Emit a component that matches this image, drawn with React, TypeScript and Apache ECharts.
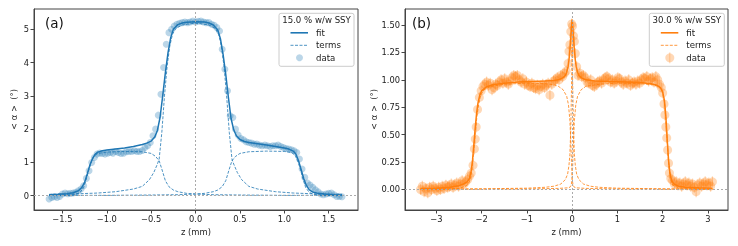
import React, { useEffect, useRef } from 'react';
import * as echarts from 'echarts';

const FONT = 'DejaVu Sans';
const BLUE = '#1f77b4';
const ORANGE = '#ff7f0e';

// ---------- Panel (a): 15.0 % w/w SSY ----------
const X_TICKS_A = [-1.5, -1.0, -0.5, 0, 0.5, 1.0, 1.5];
const Y_TICKS_A = [0, 1, 2, 3, 4, 5];

const DATA_A: number[][] = [
  [-1.65, -0.1], [-1.62, -0.05], [-1.59, -0.03], [-1.56, -0.05], [-1.53, -0.02], [-1.5, 0.05], [-1.47, 0.08],
  [-1.44, 0.06], [-1.41, 0.07], [-1.38, 0.08], [-1.35, 0.1], [-1.32, 0.15], [-1.29, 0.2], [-1.26, 0.3],
  [-1.23, 0.52], [-1.2, 0.75], [-1.17, 1.0], [-1.14, 1.15], [-1.11, 1.25], [-1.08, 1.28], [-1.05, 1.27],
  [-1.02, 1.25], [-0.99, 1.28], [-0.96, 1.3], [-0.93, 1.28], [-0.9, 1.33], [-0.87, 1.3], [-0.84, 1.27],
  [-0.81, 1.28], [-0.78, 1.32], [-0.75, 1.33], [-0.72, 1.33], [-0.69, 1.35], [-0.66, 1.33], [-0.63, 1.33],
  [-0.6, 1.36], [-0.57, 1.45], [-0.54, 1.5], [-0.51, 1.6], [-0.48, 1.8], [-0.45, 2.0], [-0.42, 2.42],
  [-0.39, 3.05], [-0.36, 3.85], [-0.33, 4.55], [-0.3, 4.9], [-0.27, 5.0], [-0.24, 5.1], [-0.21, 5.15],
  [-0.18, 5.18], [-0.15, 5.2], [-0.12, 5.22], [-0.09, 5.2], [-0.06, 5.22], [-0.03, 5.25], [0.0, 5.22],
  [0.03, 5.24], [0.06, 5.25], [0.09, 5.22], [0.12, 5.2], [0.15, 5.2], [0.18, 5.15], [0.21, 5.12],
  [0.24, 5.05], [0.27, 4.95], [0.3, 4.4], [0.33, 3.8], [0.36, 3.15], [0.39, 2.4], [0.42, 2.35],
  [0.45, 2.0], [0.48, 1.82], [0.51, 1.72], [0.54, 1.68], [0.57, 1.62], [0.6, 1.6], [0.63, 1.58],
  [0.66, 1.55], [0.69, 1.55], [0.72, 1.52], [0.75, 1.5], [0.78, 1.52], [0.81, 1.5], [0.84, 1.48],
  [0.87, 1.5], [0.9, 1.5], [0.93, 1.52], [0.96, 1.48], [0.99, 1.45], [1.02, 1.42], [1.05, 1.4],
  [1.08, 1.38], [1.11, 1.35], [1.14, 1.3], [1.17, 1.1], [1.2, 0.8], [1.23, 0.55], [1.26, 0.38],
  [1.29, 0.32], [1.32, 0.25], [1.35, 0.18], [1.38, 0.12], [1.41, 0.05], [1.44, 0.03], [1.47, 0.05],
  [1.5, 0.07], [1.53, 0.08], [1.56, 0.03], [1.59, -0.02], [1.62, -0.02], [1.65, -0.03],
];

const FIT_A: number[][] = [
  [-1.65, 0.03], [-1.55, 0.04], [-1.45, 0.06], [-1.38, 0.09], [-1.32, 0.15], [-1.28, 0.25], [-1.25, 0.4],
  [-1.22, 0.65], [-1.19, 0.92], [-1.16, 1.12], [-1.13, 1.25], [-1.1, 1.31], [-1.05, 1.35], [-1.0, 1.37],
  [-0.9, 1.4], [-0.8, 1.43], [-0.7, 1.48], [-0.6, 1.54], [-0.55, 1.58], [-0.5, 1.64], [-0.46, 1.76],
  [-0.43, 1.96], [-0.4, 2.35], [-0.37, 3.0], [-0.34, 3.7], [-0.31, 4.3], [-0.28, 4.75], [-0.25, 5.0],
  [-0.2, 5.14], [-0.15, 5.19], [-0.1, 5.21], [0, 5.23], [0.1, 5.22], [0.15, 5.19], [0.2, 5.13],
  [0.25, 4.98], [0.28, 4.72], [0.31, 4.25], [0.34, 3.65], [0.37, 2.95], [0.4, 2.32], [0.43, 1.98],
  [0.46, 1.8], [0.5, 1.69], [0.55, 1.63], [0.6, 1.6], [0.7, 1.56], [0.8, 1.52], [0.9, 1.48],
  [1.0, 1.43], [1.05, 1.4], [1.1, 1.34], [1.13, 1.25], [1.16, 1.05], [1.19, 0.78], [1.22, 0.5],
  [1.25, 0.3], [1.28, 0.18], [1.32, 0.11], [1.38, 0.07], [1.45, 0.05], [1.55, 0.03], [1.65, 0.02],
];

const TERM_A_CENTER: number[][] = [
  [-1.65, 0.04], [-1.4, 0.05], [-1.1, 0.08], [-0.9, 0.12], [-0.7, 0.2], [-0.6, 0.28], [-0.52, 0.48],
  [-0.47, 0.7], [-0.43, 0.95], [-0.41, 1.1], [-0.38, 1.9], [-0.35, 3.0], [-0.32, 3.9], [-0.29, 4.5],
  [-0.26, 4.85], [-0.22, 5.03], [-0.15, 5.13], [-0.05, 5.17], [0, 5.18], [0.05, 5.17], [0.15, 5.13],
  [0.22, 5.03], [0.26, 4.85], [0.29, 4.5], [0.32, 3.9], [0.35, 3.0], [0.38, 1.9], [0.41, 1.1],
  [0.43, 0.95], [0.47, 0.7], [0.52, 0.48], [0.6, 0.28], [0.7, 0.2], [0.9, 0.12], [1.1, 0.08],
  [1.4, 0.05], [1.65, 0.04],
];

const TERM_A_LEFT: number[][] = [
  [-1.65, 0.0], [-1.45, 0.01], [-1.35, 0.04], [-1.3, 0.1], [-1.26, 0.25], [-1.23, 0.5], [-1.2, 0.8],
  [-1.17, 1.05], [-1.14, 1.2], [-1.1, 1.27], [-1.0, 1.31], [-0.8, 1.33], [-0.6, 1.32], [-0.5, 1.27],
  [-0.45, 1.18], [-0.41, 1.05], [-0.38, 0.8], [-0.34, 0.45], [-0.3, 0.27], [-0.25, 0.17], [-0.2, 0.12],
  [-0.1, 0.07], [0, 0.05], [0.2, 0.03], [0.5, 0.02], [1.0, 0.01], [1.65, 0.01],
];

const TERM_A_RIGHT: number[][] = [
  [-1.65, 0.01], [-1.0, 0.01], [-0.5, 0.02], [-0.2, 0.03], [0, 0.05], [0.1, 0.07], [0.2, 0.12],
  [0.25, 0.17], [0.3, 0.27], [0.34, 0.45], [0.38, 0.8], [0.41, 1.05], [0.45, 1.18], [0.5, 1.27],
  [0.6, 1.32], [0.8, 1.34], [1.0, 1.33], [1.08, 1.3], [1.12, 1.22], [1.15, 1.05], [1.18, 0.8],
  [1.21, 0.5], [1.24, 0.25], [1.28, 0.1], [1.33, 0.04], [1.45, 0.01], [1.65, 0.0],
];

// ---------- Panel (b): 30.0 % w/w SSY ----------
const X_TICKS_B = [-3, -2, -1, 0, 1, 2, 3];
const Y_TICKS_B = [0, 0.25, 0.5, 0.75, 1.0, 1.25, 1.5];
const ERR_B = 0.05;

const DATA_B: number[][] = [
  [-3.35, 0.0], [-3.31, 0.03], [-3.27, -0.02], [-3.23, 0.01], [-3.19, -0.03], [-3.15, 0.02], [-3.11, 0.0],
  [-3.07, 0.03], [-3.03, 0.01], [-2.99, -0.01], [-2.95, 0.02], [-2.91, 0.0], [-2.87, 0.03], [-2.83, 0.01],
  [-2.79, 0.04], [-2.75, 0.02], [-2.71, 0.03], [-2.67, 0.05], [-2.63, 0.02], [-2.59, 0.04], [-2.55, 0.06],
  [-2.51, 0.03], [-2.47, 0.05], [-2.43, 0.08], [-2.39, 0.05], [-2.35, 0.07], [-2.31, 0.09], [-2.27, 0.12],
  [-2.23, 0.15], [-2.19, 0.22], [-2.16, 0.37], [-2.14, 0.46], [-2.12, 0.57], [-2.09, 0.73], [-2.05, 0.84],
  [-2.01, 0.9], [-1.97, 0.94], [-1.93, 0.96], [-1.89, 0.98], [-1.85, 0.95], [-1.81, 0.97], [-1.77, 0.91],
  [-1.73, 0.93], [-1.69, 0.96], [-1.65, 0.95], [-1.61, 0.98], [-1.57, 1.0], [-1.53, 0.97], [-1.49, 1.01],
  [-1.45, 0.98], [-1.41, 0.96], [-1.37, 0.99], [-1.33, 1.02], [-1.29, 1.04], [-1.25, 1.03], [-1.21, 1.04],
  [-1.17, 1.0], [-1.13, 0.98], [-1.09, 1.01], [-1.05, 0.96], [-1.01, 0.98], [-0.97, 0.95], [-0.93, 0.94],
  [-0.89, 0.97], [-0.85, 0.93], [-0.81, 0.92], [-0.77, 0.95], [-0.73, 0.91], [-0.69, 0.94], [-0.65, 0.96],
  [-0.61, 0.93], [-0.57, 0.95], [-0.53, 0.97], [-0.49, 0.86], [-0.45, 0.96], [-0.41, 0.99], [-0.37, 1.0],
  [-0.33, 1.02], [-0.29, 1.0], [-0.25, 1.04], [-0.21, 1.03], [-0.17, 1.06], [-0.13, 1.08], [-0.09, 1.15],
  [-0.07, 1.26], [-0.05, 1.32], [-0.03, 1.44], [-0.01, 1.51], [0.01, 1.49], [0.03, 1.4], [0.05, 1.35],
  [0.07, 1.24], [0.1, 1.12], [0.13, 1.04], [0.17, 1.06], [0.21, 1.03], [0.25, 1.04], [0.29, 1.02],
  [0.33, 0.98], [0.37, 0.97], [0.41, 1.0], [0.45, 0.95], [0.49, 0.94], [0.53, 0.96], [0.57, 0.98],
  [0.61, 0.99], [0.65, 0.97], [0.69, 1.0], [0.73, 1.02], [0.77, 1.03], [0.81, 1.01], [0.85, 0.98],
  [0.89, 1.0], [0.93, 0.97], [0.97, 0.99], [1.01, 1.02], [1.05, 1.01], [1.09, 0.98], [1.13, 0.96],
  [1.17, 0.99], [1.21, 0.97], [1.25, 1.0], [1.29, 0.95], [1.33, 0.97], [1.37, 0.98], [1.41, 0.96],
  [1.45, 0.99], [1.49, 0.97], [1.53, 1.0], [1.57, 1.02], [1.61, 1.01], [1.65, 1.03], [1.69, 0.99],
  [1.73, 1.01], [1.77, 1.02], [1.81, 0.98], [1.85, 1.03], [1.89, 1.0], [1.93, 0.96], [1.97, 0.93],
  [2.0, 0.88], [2.03, 0.78], [2.05, 0.68], [2.07, 0.57], [2.09, 0.47], [2.11, 0.36], [2.13, 0.24],
  [2.15, 0.15], [2.18, 0.1], [2.22, 0.08], [2.26, 0.05], [2.3, 0.07], [2.34, 0.04], [2.38, 0.06],
  [2.42, 0.03], [2.46, 0.05], [2.5, 0.07], [2.54, 0.04], [2.58, 0.06], [2.62, 0.03], [2.66, 0.05],
  [2.7, 0.02], [2.74, -0.02], [2.78, 0.04], [2.82, 0.06], [2.86, 0.03], [2.9, 0.05], [2.94, 0.07],
  [2.98, 0.04], [3.02, 0.06], [3.06, 0.03], [3.1, 0.07],
];

const FIT_B: number[][] = [
  [-3.35, 0.01], [-3.0, 0.012], [-2.7, 0.02], [-2.5, 0.035], [-2.4, 0.05], [-2.32, 0.07], [-2.27, 0.1],
  [-2.23, 0.17], [-2.2, 0.27], [-2.17, 0.42], [-2.14, 0.57], [-2.11, 0.7], [-2.08, 0.79], [-2.04, 0.86],
  [-2.0, 0.9], [-1.9, 0.935], [-1.75, 0.955], [-1.5, 0.97], [-1.2, 0.98], [-0.9, 0.985], [-0.6, 0.99],
  [-0.4, 0.995], [-0.3, 1.0], [-0.2, 1.02], [-0.15, 1.04], [-0.12, 1.07], [-0.09, 1.12], [-0.07, 1.18],
  [-0.05, 1.27], [-0.03, 1.38], [-0.015, 1.48], [0, 1.55], [0.015, 1.48], [0.03, 1.38], [0.05, 1.27],
  [0.07, 1.18], [0.09, 1.12], [0.12, 1.07], [0.15, 1.04], [0.2, 1.02], [0.3, 1.0], [0.5, 0.99],
  [0.8, 0.985], [1.2, 0.98], [1.5, 0.975], [1.75, 0.965], [1.88, 0.95], [1.95, 0.93], [2.0, 0.89],
  [2.04, 0.81], [2.07, 0.67], [2.1, 0.46], [2.13, 0.27], [2.16, 0.15], [2.2, 0.08], [2.25, 0.05],
  [2.35, 0.03], [2.5, 0.02], [2.8, 0.015], [3.1, 0.012],
];

const TERM_B_LEFT: number[][] = [
  [-3.35, 0.003], [-2.8, 0.005], [-2.5, 0.01], [-2.35, 0.03], [-2.27, 0.07], [-2.22, 0.16], [-2.18, 0.32],
  [-2.14, 0.52], [-2.1, 0.68], [-2.06, 0.79], [-2.02, 0.86], [-1.95, 0.91], [-1.8, 0.94], [-1.5, 0.96],
  [-1.0, 0.97], [-0.6, 0.965], [-0.4, 0.955], [-0.3, 0.94], [-0.2, 0.91], [-0.12, 0.85], [-0.08, 0.77],
  [-0.05, 0.63], [-0.03, 0.45], [-0.015, 0.25], [0, 0.1], [0.02, 0.04], [0.05, 0.02], [0.1, 0.015],
  [0.3, 0.01], [1.0, 0.005], [3.1, 0.002],
];

const TERM_B_RIGHT: number[][] = [
  [-3.35, 0.002], [-1.0, 0.005], [-0.3, 0.01], [-0.1, 0.015], [-0.05, 0.02], [-0.02, 0.04], [0, 0.1],
  [0.015, 0.25], [0.03, 0.45], [0.05, 0.63], [0.08, 0.77], [0.12, 0.85], [0.2, 0.91], [0.3, 0.94],
  [0.6, 0.96], [1.0, 0.97], [1.5, 0.965], [1.8, 0.955], [1.95, 0.93], [2.0, 0.89], [2.04, 0.8],
  [2.07, 0.65], [2.1, 0.45], [2.13, 0.25], [2.17, 0.1], [2.22, 0.04], [2.35, 0.015], [2.6, 0.008],
  [3.1, 0.004],
];

const TERM_B_PEAK: number[][] = [
  [-3.35, 0.003], [-2.0, 0.006], [-1.0, 0.012], [-0.6, 0.02], [-0.4, 0.03], [-0.25, 0.05], [-0.15, 0.09],
  [-0.1, 0.14], [-0.07, 0.22], [-0.05, 0.32], [-0.03, 0.55], [-0.015, 0.9], [0, 1.3], [0.015, 0.9],
  [0.03, 0.55], [0.05, 0.32], [0.07, 0.22], [0.1, 0.14], [0.15, 0.09], [0.25, 0.05], [0.4, 0.03],
  [0.6, 0.02], [1.0, 0.012], [2.0, 0.006], [3.1, 0.003],
];

const minus = (s: string) => s.replace('-', '\u2212');
const TXT = '#222';
const SPINE = '#444';

function xAxisCfg(grid: number, min: number, max: number, ticks: number[], fmt: (v: number) => string) {
  return {
    gridIndex: grid, type: 'value', min, max,
    axisLine: { show: true, onZero: false, lineStyle: { color: SPINE, width: 1 } },
    axisTick: { show: true, length: 3.5, customValues: ticks, lineStyle: { color: SPINE, width: 1 } },
    axisLabel: { customValues: ticks, formatter: fmt, fontSize: 8.3, color: TXT, margin: 5, fontFamily: FONT },
    splitLine: { show: false },
    name: 'z (mm)', nameLocation: 'middle', nameGap: 17,
    nameTextStyle: { fontSize: 8.4, color: TXT, fontFamily: FONT },
  };
}

function yAxisCfg(grid: number, min: number, max: number, ticks: number[], fmt: (v: number) => string, gap: number) {
  return {
    gridIndex: grid, type: 'value', min, max,
    axisLine: { show: true, onZero: false, lineStyle: { color: SPINE, width: 1 } },
    axisTick: { show: true, length: 3.5, customValues: ticks, lineStyle: { color: SPINE, width: 1 } },
    axisLabel: { customValues: ticks, formatter: fmt, fontSize: 8.3, color: TXT, margin: 5, fontFamily: FONT },
    splitLine: { show: false },
    name: '< \u03b1 >  (\u00b0)', nameLocation: 'middle', nameGap: gap, nameRotate: 90,
    nameTextStyle: { fontSize: 8.4, color: TXT, fontFamily: FONT },
  };
}

function legend(x0: number, y0: number, title: string, color: string, errbar: boolean) {
  const w = 75, h = 53;
  const items: any[] = [
    { type: 'rect', shape: { x: x0, y: y0, width: w, height: h, r: 2 },
      style: { fill: 'rgba(255,255,255,0.85)', stroke: '#cccccc', lineWidth: 1 }, z: 100 },
    { type: 'text', x: x0 + w / 2, y: y0 + 7, z: 101,
      style: { text: title, fontSize: 8.6, fontFamily: FONT, fill: TXT, align: 'center', verticalAlign: 'middle' } },
    { type: 'line', shape: { x1: x0 + 11.5, y1: y0 + 19.5, x2: x0 + 29, y2: y0 + 19.5 }, z: 101,
      style: { stroke: color, lineWidth: 1.6 } },
    { type: 'text', x: x0 + 37, y: y0 + 19.5, z: 101,
      style: { text: 'fit', fontSize: 8.6, fontFamily: FONT, fill: TXT, align: 'left', verticalAlign: 'middle' } },
    { type: 'line', shape: { x1: x0 + 11.5, y1: y0 + 32, x2: x0 + 29, y2: y0 + 32 }, z: 101,
      style: { stroke: color, lineWidth: 0.8, lineDash: [3, 1.5] } },
    { type: 'text', x: x0 + 37, y: y0 + 32, z: 101,
      style: { text: 'terms', fontSize: 8.6, fontFamily: FONT, fill: TXT, align: 'left', verticalAlign: 'middle' } },
    { type: 'circle', shape: { cx: x0 + 20.5, cy: y0 + 44.5, r: errbar ? 4.5 : 3.5 }, z: 101,
      style: { fill: color, opacity: 0.3 } },
    { type: 'text', x: x0 + 37, y: y0 + 44.5, z: 101,
      style: { text: 'data', fontSize: 8.6, fontFamily: FONT, fill: TXT, align: 'left', verticalAlign: 'middle' } },
  ];
  if (errbar) {
    items.push({ type: 'line', shape: { x1: x0 + 20.5, y1: y0 + 39, x2: x0 + 20.5, y2: y0 + 50 }, z: 101,
      style: { stroke: color, lineWidth: 1, opacity: 0.3 } });
  }
  return items;
}

const zeroLines = {
  silent: true, symbol: 'none', label: { show: false },
  lineStyle: { color: '#aaaaaa', type: [2, 2], width: 1 },
  data: [{ xAxis: 0 }, { yAxis: 0 }],
};

function lineSeries(x: number, data: number[][], color: string, width: number, dashed: boolean, z: number) {
  return {
    type: 'line', xAxisIndex: x, yAxisIndex: x, data, showSymbol: false, symbol: 'none',
    lineStyle: { color, width, type: dashed ? [3, 1.5] : 'solid' }, z, silent: true, clip: true,
  };
}

export default function App() {
  const ref = useRef<HTMLDivElement>(null);
  useEffect(() => {
    if (!ref.current) return;
    const chart = echarts.init(ref.current, null, { renderer: 'svg' });
    const option: any = {
      animation: false,
      textStyle: { fontFamily: FONT },
      grid: [
        { left: 34, top: 9, width: 324, height: 201, show: true, borderColor: SPINE, borderWidth: 1, backgroundColor: 'transparent' },
        { left: 405, top: 9, width: 323, height: 201, show: true, borderColor: SPINE, borderWidth: 1, backgroundColor: 'transparent' },
      ],
      xAxis: [
        xAxisCfg(0, -1.82, 1.83, X_TICKS_A, (v: number) => minus(v.toFixed(1))),
        xAxisCfg(1, -3.693, 3.444, X_TICKS_B, (v: number) => minus(String(Math.round(v)))),
      ],
      yAxis: [
        yAxisCfg(0, -0.43, 5.61, Y_TICKS_A, (v: number) => minus(String(Math.round(v))), 16),
        yAxisCfg(1, -0.187, 1.646, Y_TICKS_B, (v: number) => minus(v.toFixed(2)), 26),
      ],
      series: [
        {
          type: 'scatter', xAxisIndex: 0, yAxisIndex: 0, data: DATA_A, symbolSize: 7,
          itemStyle: { color: BLUE, opacity: 0.3 }, z: 2, silent: true, markLine: zeroLines,
        },
        lineSeries(0, TERM_A_CENTER, BLUE, 0.8, true, 3),
        lineSeries(0, TERM_A_LEFT, BLUE, 0.8, true, 3),
        lineSeries(0, TERM_A_RIGHT, BLUE, 0.8, true, 3),
        lineSeries(0, FIT_A, BLUE, 1.5, false, 4),
        {
          type: 'custom', xAxisIndex: 1, yAxisIndex: 1, data: DATA_B, z: 1, silent: true, clip: true,
          encode: { x: 0, y: 1 },
          renderItem: (_p: any, api: any) => {
            const x = api.value(0), y = api.value(1);
            const a = api.coord([x, y - ERR_B]);
            const b = api.coord([x, y + ERR_B]);
            return { type: 'line', shape: { x1: a[0], y1: a[1], x2: b[0], y2: b[1] },
              style: { stroke: ORANGE, lineWidth: 1.2, opacity: 0.3 } };
          },
        },
        {
          type: 'scatter', xAxisIndex: 1, yAxisIndex: 1, data: DATA_B, symbolSize: 9,
          itemStyle: { color: ORANGE, opacity: 0.3 }, z: 2, silent: true, markLine: zeroLines,
        },
        lineSeries(1, TERM_B_LEFT, ORANGE, 0.8, true, 3),
        lineSeries(1, TERM_B_RIGHT, ORANGE, 0.8, true, 3),
        lineSeries(1, TERM_B_PEAK, ORANGE, 0.8, true, 3),
        lineSeries(1, FIT_B, ORANGE, 1.5, false, 4),
      ],
      graphic: [
        { type: 'text', x: 45, y: 23, z: 50,
          style: { text: '(a)', fontSize: 13.5, fontFamily: FONT, fill: '#111', align: 'left', verticalAlign: 'middle' } },
        { type: 'text', x: 412, y: 23, z: 50,
          style: { text: '(b)', fontSize: 13.5, fontFamily: FONT, fill: '#111', align: 'left', verticalAlign: 'middle' } },
        ...legend(279, 13.3, '15.0 % w/w SSY', BLUE, false),
        ...legend(649.3, 13.3, '30.0 % w/w SSY', ORANGE, true),
      ],
    };
    chart.setOption(option);
    return () => chart.dispose();
  }, []);
  return <div ref={ref} style={{ position: 'fixed', left: 0, top: 0, width: 738, height: 246 }} />;
}
